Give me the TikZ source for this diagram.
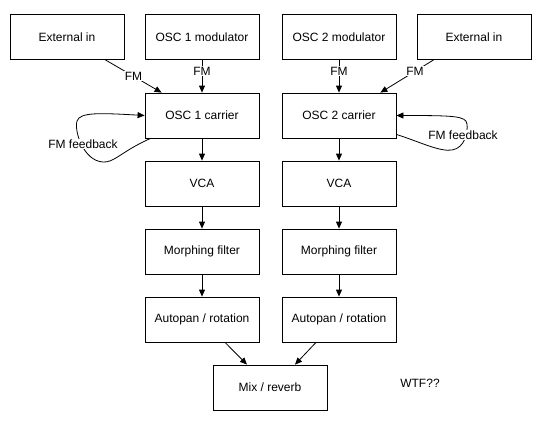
\documentclass[tikz,border=0pt]{standalone}
\usepackage{fontspec}
\setmainfont{Liberation Sans}
\usetikzlibrary{arrows.meta}

\begin{document}
\begin{tikzpicture}[x=1pt,y=-1pt,line width=0.8pt,font=\fontsize{12}{14}\selectfont,
    block/.style={draw,minimum width=114pt,minimum height=45pt,inner sep=0pt},
    flow/.style={-{Triangle[length=7pt,width=6pt]}},
    tag/.style={fill=white,inner sep=1pt}]
                \useasboundingbox (0,0) rectangle (543,431);
                % top row
                \node[block] (ext1) at (67,37) {External in};
                \node[block] (mod1) at (202,37) {OSC 1 modulator};
                \node[block] (mod2) at (339,37) {OSC 2 modulator};
                \node[block] (ext2) at (474,37) {External in};
                % left chain
                \node[block] (car1) at (202,115.5) {OSC 1 carrier};
                \node[block] (vca1) at (202,183.5) {VCA};
                \node[block] (filt1) at (202,251.5) {Morphing filter};
                \node[block] (pan1) at (202,319.5) {Autopan / rotation};
                % right chain
                \node[block] (car2) at (339,115.5) {OSC 2 carrier};
                \node[block] (vca2) at (339,183.5) {VCA};
                \node[block] (filt2) at (339,251.5) {Morphing filter};
                \node[block] (pan2) at (339,319.5) {Autopan / rotation};
                % output
                \node[block] (mix) at (270,387.5) {Mix / reverb};
                \node (wtf) at (420,383) {WTF??};
                % FM inputs
                \draw[flow]
                    ([xshift=-19pt]ext1.south east) -- node[tag] {FM} ([xshift=17pt]car1.north west);
                \draw[flow]
                    (mod1) -- node[tag,pos=0.35] {FM} (car1);
                \draw[flow]
                    (mod2) -- node[tag,pos=0.35] {FM} (car2);
                \draw[flow]
                    ([xshift=17pt]ext2.south west) -- node[tag,pos=0.35] {FM} ([xshift=-16pt]car2.north east);
                % feedback loops
                \draw[flow]
                    ([xshift=6pt]car1.south west) .. controls (122,151) and (114,163) .. (103,162)
                    .. controls (84,161) and (74,132) .. (77,121)
                    .. controls (80,112) and (100,113) .. (car1.west);
                \node[tag] (fb1) at (83,144) {FM feedback};
                \draw[flow]
                    ([yshift=4pt]car2.south east) .. controls (420,142) and (440,152) .. (452,150)
                    .. controls (465,148) and (468,132) .. (467,124)
                    .. controls (466,116) and (455,115.5) .. (car2.east);
                \node[tag] (fb2) at (463,135) {FM feedback};
                % signal chain
                \foreach \a/\b in {car1/vca1,vca1/filt1,filt1/pan1,car2/vca2,vca2/filt2,filt2/pan2}
                    \draw[flow] (\a) -- (\b);
                \draw[flow]
                    ([xshift=23pt]pan1.south) -- ([xshift=-23pt]mix.north);
                \draw[flow]
                    ([xshift=-23pt]pan2.south) -- ([xshift=25pt]mix.north);
            \end{tikzpicture}
\end{document}
